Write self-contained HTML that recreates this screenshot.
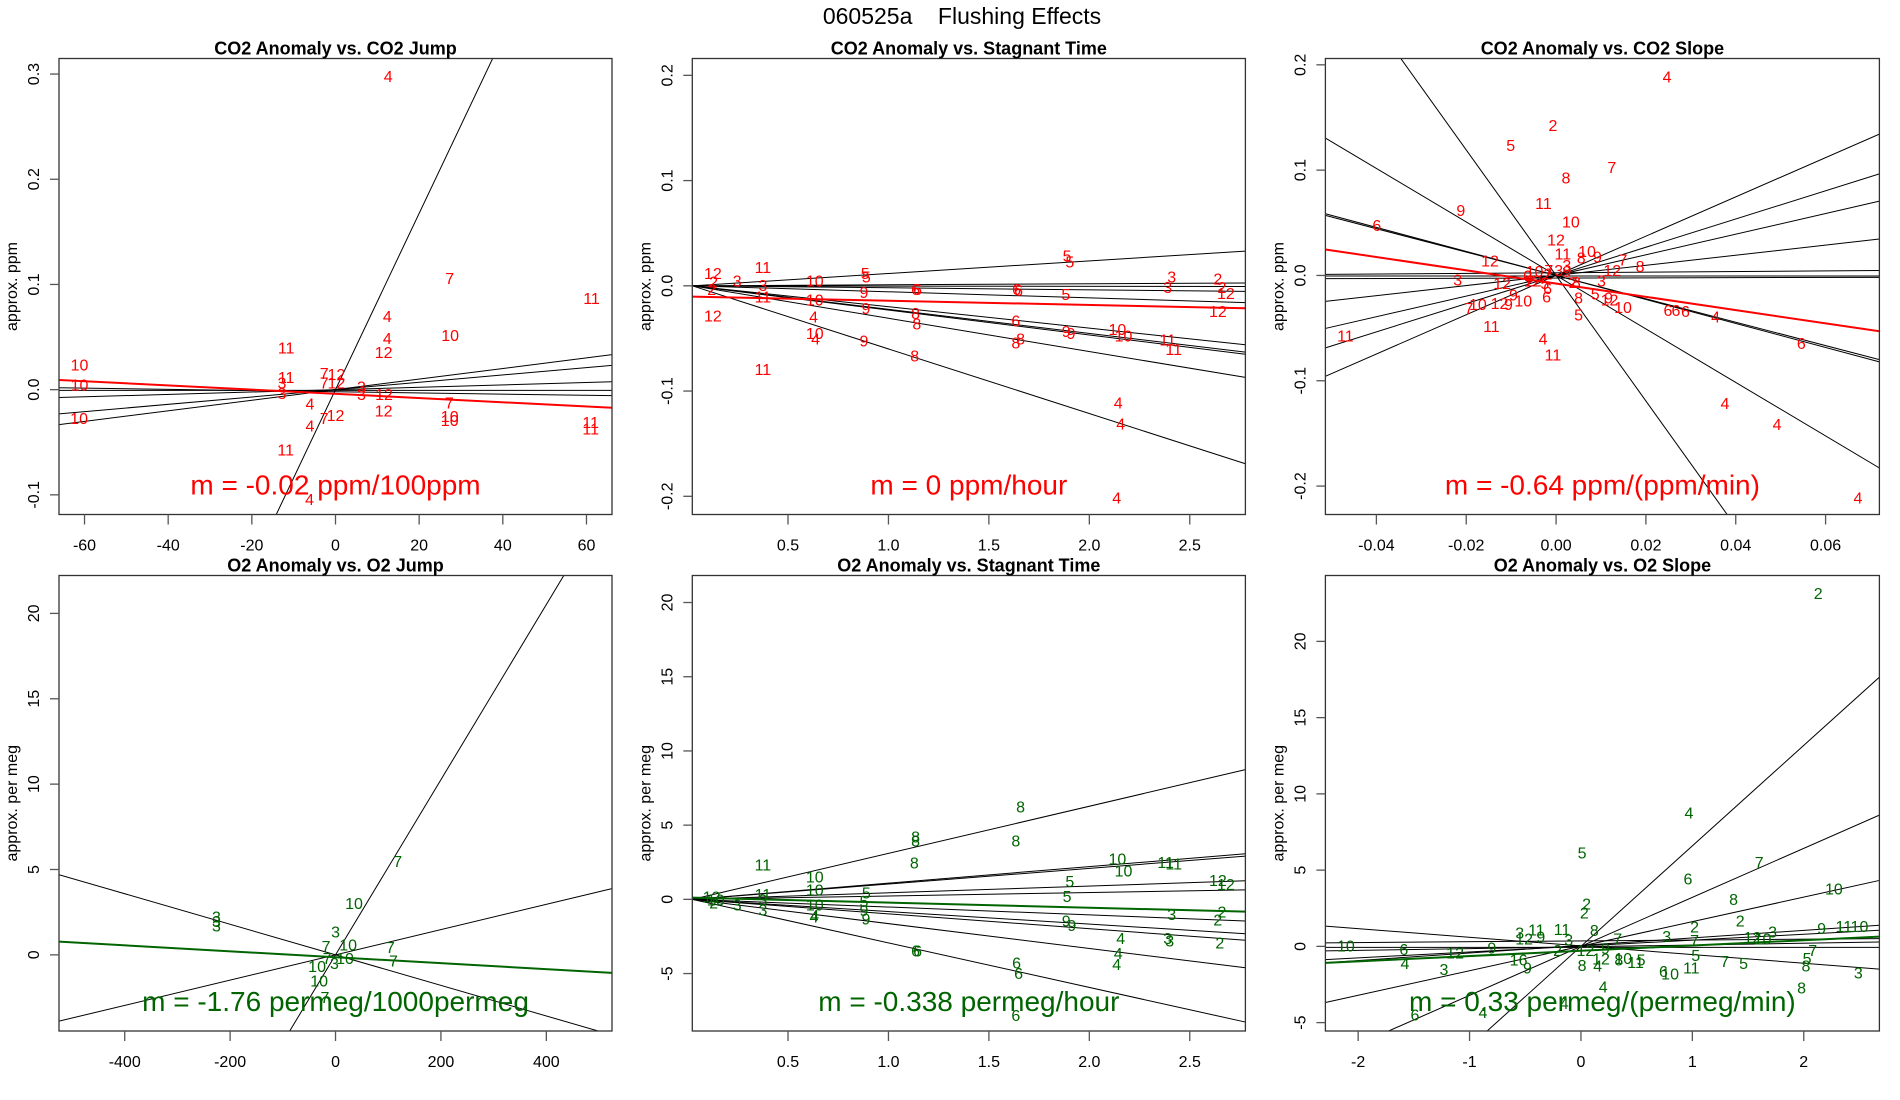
<!DOCTYPE html>
<html><head><meta charset="utf-8"><title>Flushing Effects</title>
<style>
html,body{margin:0;padding:0;background:#fff;width:1900px;height:1100px;overflow:hidden;}
svg{display:block;font-family:"Liberation Sans",Arial,sans-serif;}
</style></head>
<body>
<svg id="fig" width="1900" height="1100" viewBox="0 0 1900 1100" xmlns="http://www.w3.org/2000/svg">
<rect x="0" y="0" width="1900" height="1100" fill="#fff"/>
<text x="962" y="24" text-anchor="middle" font-size="23" fill="#000" style="white-space:pre" xml:space="preserve">060525a    Flushing Effects</text>
</svg>
<script>
// ---------- Panel 1: CO2 Anomaly vs CO2 Jump ----------
const p1Labels = ["4","7","11","4","10","4","11","12","10","11","7","12","10","3","7","12","3","3","3","12","4","7","10","10","10","12","12","7","4","11","11","11","4"];
const p1X = [12.6,27.3,61.2,12.4,27.4,12.4,-11.8,11.5,-61.2,-11.8,-2.7,0.2,-61.2,-12.8,-2.7,0.2,-12.8,6.2,6.2,11.6,-6.1,27.2,27.3,27.3,-61.3,11.5,0,-2.7,-6.1,61,61,-11.9,-6.2];
const p1Y = [0.298,0.106,0.087,0.070,0.052,0.049,0.040,0.036,0.024,0.012,0.016,0.015,0.005,0.007,0.007,0.007,-0.003,0.003,-0.004,-0.004,-0.013,-0.012,-0.025,-0.029,-0.027,-0.020,-0.024,-0.027,-0.034,-0.031,-0.037,-0.057,-0.104];
const p1Slopes = [0.00838,0.000503,0.000349,0.000113,-0.0000566,0];
const p1Intercepts = [0,0,0,0,-0.002,-0.0007];
const p1Fit = [-0.0002,-0.004];
const p1XTicks = [-60,-40,-20,0,20,40,60];
const p1XTickLabels = ["-60","-40","-20","0","20","40","60"];
const p1YTicks = [-0.1,0,0.1,0.2,0.3];
const p1YTickLabels = ["-0.1","0.0","0.1","0.2","0.3"];

// ---------- Panel 2: CO2 Anomaly vs Stagnant Time ----------
const p2Labels = ["12","2","2","12","3","11","3","11","11","10","10","4","10","4","5","5","9","9","9","6","6","8","8","8","6","6","6","8","8","5","5","5","9","9","10","10","4","4","4","11","11","3","3","2","2","12","12"];
const p2X = [0.126,0.13,0.12,0.126,0.247,0.375,0.375,0.375,0.375,0.633,0.633,0.627,0.633,0.637,0.884,0.89,0.878,0.888,0.878,1.135,1.145,1.135,1.141,1.131,1.638,1.648,1.634,1.658,1.634,1.889,1.903,1.883,1.885,1.909,2.14,2.17,2.144,2.156,2.136,2.39,2.42,2.41,2.39,2.64,2.66,2.68,2.64];
const p2Y = [0.012,0.004,-0.003,-0.028,0.005,0.018,0.001,-0.010,-0.079,0.005,-0.013,-0.029,-0.045,-0.050,0.012,0.009,-0.006,-0.021,-0.052,-0.003,-0.003,-0.026,-0.036,-0.066,-0.003,-0.004,-0.033,-0.050,-0.054,0.029,0.023,-0.008,-0.043,-0.045,-0.041,-0.047,-0.111,-0.131,-0.201,-0.051,-0.060,0.009,-0.001,0.007,-0.001,-0.007,-0.024];
const p2Slopes = [0.01198,0.00098,-0.00025,-0.00192,-0.00581,-0.02034,-0.02288,-0.02361,-0.0316,-0.0614];
const p2Intercepts = [-0.00028,-0.00002,0.00001,0.00005,0.00014,0.00048,0.00054,0.00055,0.00074,0.00144];
const p2Fit = [-0.004,-0.0102];
const p2XTicks = [0.5,1.0,1.5,2.0,2.5];
const p2XTickLabels = ["0.5","1.0","1.5","2.0","2.5"];
const p2YTicks = [-0.2,-0.1,0,0.1,0.2];
const p2YTickLabels = ["-0.2","-0.1","0.0","0.1","0.2"];

// ---------- Panel 3: CO2 Anomaly vs CO2 Slope ----------
const p3Labels = ["4","2","5","7","8","11","9","10","6","12","12","11","10","8","9","7","8","12","3","3","3","12","9","7","10","12","9","10","11","11","6","5","8","5","9","12","10","6","6","6","4","6","4","11","4","4","4","0","10","7","2","3","9","2","8","5","6","12","2"];
const p3X = [0.0247,-0.0007,-0.0101,0.0124,0.0022,-0.0028,-0.0212,0.0033,-0.0399,0,-0.0147,0.0015,0.0069,0.0056,0.0092,0.0149,0.0187,0.0125,0.0024,-0.0219,0.0101,-0.012,-0.0095,-0.0194,-0.0174,-0.0126,-0.0106,-0.0073,-0.0144,-0.0469,-0.0021,0.0050,0.0050,0.0087,0.0117,0.0119,0.0149,0.0249,0.0267,0.0288,0.0355,0.0546,-0.0029,-0.0007,0.0376,0.0492,0.0672,-0.0063,-0.0048,-0.0016,-0.0018,0.0006,0.0024,0.0038,0.0045,-0.0025,-0.0019,-0.0052,-0.0057];
const p3Y = [0.189,0.143,0.124,0.103,0.093,0.069,0.062,0.051,0.048,0.034,0.014,0.021,0.023,0.017,0.018,0.015,0.009,0.005,0.010,-0.004,-0.005,-0.007,-0.018,-0.031,-0.027,-0.026,-0.027,-0.024,-0.048,-0.057,-0.020,-0.037,-0.021,-0.017,-0.021,-0.023,-0.030,-0.033,-0.033,-0.034,-0.039,-0.064,-0.060,-0.075,-0.121,-0.141,-0.211,0,0.004,0.005,0.002,0.005,0.004,-0.006,-0.006,-0.007,-0.012,-0.005,-0.005];
const p3Slopes = [-5.96,-2.54,-1.11,-1.14,1.865,1.34,0.98,0.48,0.03,0.01,0];
const p3Intercepts = [0,0,0,0,0,0,0,0,0.0025,-0.0025,-0.0005];
const p3Fit = [-0.63,-0.0077];
const p3XTicks = [-0.04,-0.02,0,0.02,0.04,0.06];
const p3XTickLabels = ["-0.04","-0.02","0.00","0.02","0.04","0.06"];
const p3YTicks = [-0.2,-0.1,0,0.1,0.2];
const p3YTickLabels = ["-0.2","-0.1","0.0","0.1","0.2"];

// ---------- Panel 4: O2 Anomaly vs O2 Jump ----------
const p4Labels = ["7","10","3","3","3","3","7","10","7","7","7","3","10","10","10","7"];
const p4X = [118,35,-226,-226,-226,0,-18,24,104,110,-16,-2,18,-35,-31,-20];
const p4Y = [5.49,3.04,2.24,1.97,1.72,1.36,0.52,0.61,0.46,-0.34,-0.17,-0.48,-0.17,-0.65,-1.49,-2.47];
const p4Slopes = [0.0513,-0.00895,0.0074];
const p4Intercepts = [0,0,0];
const p4Fit = [-0.00174,-0.14];
const p4XTicks = [-400,-200,0,200,400];
const p4XTickLabels = ["-400","-200","0","200","400"];
const p4YTicks = [0,5,10,15,20];
const p4YTickLabels = ["0","5","10","15","20"];

// ---------- Panel 5: O2 Anomaly vs Stagnant Time ----------
const p5Labels = ["11","10","10","10","4","4","8","8","8","6","6","6","6","6","8","8","5","5","9","9","5","5","9","9","10","10","11","11","12","12","3","3","3","4","4","4","2","2","2","12","2","10","3","11","3","3"];
const p5X = [0.375,0.633,0.633,0.633,0.633,0.629,1.135,1.135,1.129,1.135,1.145,1.638,1.648,1.634,1.658,1.634,0.89,0.878,0.878,0.888,1.903,1.889,1.885,1.913,2.14,2.17,2.38,2.42,2.64,2.68,2.41,2.39,2.40,2.156,2.144,2.136,2.66,2.64,2.65,0.12,0.13,0.14,0.247,0.375,0.375,0.375];
const p5Y = [2.36,1.54,0.66,-0.35,-1.06,-1.15,4.25,3.95,2.48,-3.43,-3.43,-4.25,-4.96,-7.80,6.26,3.95,0.47,-0.12,-0.71,-1.30,1.25,0.24,-1.42,-1.72,2.76,1.96,2.53,2.41,1.30,1.02,-0.99,-2.60,-2.76,-2.60,-3.62,-4.37,-0.83,-1.37,-2.91,0.2,-0.2,0.0,-0.35,0.35,0.0,-0.7];
const p5Slopes = [3.174,1.115,1.057,0.454,0.232,-0.530,-0.843,-1.002,-1.674,-3.003];
const p5Intercepts = [-0.075,-0.026,-0.025,-0.011,-0.005,0.012,0.020,0.024,0.039,0.071];
const p5Fit = [-0.345,0.128];
const p5XTicks = [0.5,1.0,1.5,2.0,2.5];
const p5XTickLabels = ["0.5","1.0","1.5","2.0","2.5"];
const p5YTicks = [-5,0,5,10,15,20];
const p5YTickLabels = ["-5","0","5","10","15","20"];

// ---------- Panel 6: O2 Anomaly vs O2 Slope ----------
const p6Labels = ["2","4","5","7","6","10","8","2","2","2","2","3","11","11","8","9","12","3","7","9","11","10","3","12","10","10","6","12","9","4","3","16","9","7","5","5","8","7","5","3","11","6","10","8","4","12","8","10","11","5","4","8","4","4","6","2","3","9","7","12"];
const p6X = [2.13,0.97,0.01,1.60,0.96,2.27,1.37,0.05,0.03,1.43,1.02,-0.55,-0.40,-0.17,0.12,-0.36,-0.51,0.77,1.02,2.16,2.36,2.50,1.72,1.54,1.63,-2.11,-1.59,-1.13,-0.80,-1.58,-1.23,-0.56,-0.48,2.08,1.03,2.03,2.02,1.29,1.46,2.49,0.99,0.74,0.80,0.01,0.15,0.18,0.34,0.38,0.49,0.54,0.20,1.98,-0.15,-0.88,-1.49,-0.21,-0.11,0.22,0.33,0.04];
const p6Y = [23.18,8.79,6.16,5.52,4.44,3.79,3.10,2.81,2.23,1.68,1.31,0.92,1.10,1.15,1.08,0.64,0.51,0.69,0.41,1.20,1.33,1.33,0.99,0.62,0.51,0.07,-0.16,-0.41,-0.07,-1.10,-1.50,-0.87,-1.38,-0.23,-0.57,-0.76,-1.26,-0.97,-1.08,-1.72,-1.38,-1.61,-1.77,-1.22,-1.26,-0.80,-0.87,-0.76,-1.03,-0.87,-2.64,-2.69,-3.73,-4.32,-4.48,-0.23,0.46,-0.11,0.51,-0.23];
const p6Slopes = [6.59,3.214,1.61,-0.567,0.495,0.388,0.117,0.056,0];
const p6Intercepts = [0,0,0.01,0.03,0.06,0.02,-0.03,0.36,-0.07];
const p6Fit = [0.346,-0.29];
const p6XTicks = [-2,-1,0,1,2];
const p6XTickLabels = ["-2","-1","0","1","2"];
const p6YTicks = [-5,0,5,10,15,20];
const p6YTickLabels = ["-5","0","5","10","15","20"];

const NS = "http://www.w3.org/2000/svg";
const svg = document.getElementById("fig");

function mk(tag, attrs, parent) {
  const e = document.createElementNS(NS, tag);
  for (const k in attrs) e.setAttribute(k, attrs[k]);
  (parent || svg).appendChild(e);
  return e;
}

function drawPanel(id, box, xDom, yDom, title, ytitle, color, slopeText,
                   labels, xs, ys, slopes, intercepts, fit,
                   xTicks, xTickLabels, yTicks, yTickLabels) {
  const g = mk("g", {});
  
  
  const sx = v => box.l + (v - xDom[0]) / (xDom[1] - xDom[0]) * (box.r - box.l);
  const sy = v => box.b - (v - yDom[0]) / (yDom[1] - yDom[0]) * (box.b - box.t);

  const cp = mk("clipPath", {id: "clip-" + id}, g);
  mk("rect", {x: box.l, y: box.t, width: box.r - box.l, height: box.b - box.t}, cp);
  const plot = mk("g", {"clip-path": "url(#clip-" + id + ")"}, g);

  for (let i = 0; i < slopes.length; i++) {
    const ln = mk("line", {
      x1: sx(xDom[0]), y1: sy(intercepts[i] + slopes[i] * xDom[0]),
      x2: sx(xDom[1]), y2: sy(intercepts[i] + slopes[i] * xDom[1]),
      stroke: "#000", "stroke-width": 1
    }, plot);
    
    
  }
  const fl = mk("line", {
    x1: sx(xDom[0]), y1: sy(fit[1] + fit[0] * xDom[0]),
    x2: sx(xDom[1]), y2: sy(fit[1] + fit[0] * xDom[1]),
    stroke: color, "stroke-width": 2
  }, plot);
  
  

  for (let i = 0; i < labels.length; i++) {
    const t = mk("text", {x: sx(xs[i]), y: sy(ys[i]) + 6, "text-anchor": "middle",
      "font-size": 16, fill: color}, plot);
    t.textContent = labels[i];
    
    
  }

  const st = mk("text", {x: (box.l + box.r) / 2, y: box.b - 20, "text-anchor": "middle",
    "font-size": 28, fill: color}, g);
  st.textContent = slopeText;
  
  

  const fr = mk("rect", {x: box.l, y: box.t, width: box.r - box.l, height: box.b - box.t,
    fill: "none", stroke: "#333", "stroke-width": 1.3}, g);
  
  

  for (let i = 0; i < xTicks.length; i++) {
    const x = sx(xTicks[i]);
    mk("line", {x1: x, y1: box.b, x2: x, y2: box.b + 10, stroke: "#555", "stroke-width": 1.3}, g);
    const t = mk("text", {x: x, y: box.b + 36, "text-anchor": "middle", "font-size": 16, fill: "#000"}, g);
    t.textContent = xTickLabels[i];
    
    
  }
  for (let i = 0; i < yTicks.length; i++) {
    const y = sy(yTicks[i]);
    mk("line", {x1: box.l - 9, y1: y, x2: box.l, y2: y, stroke: "#555", "stroke-width": 1.3}, g);
    const tx = box.l - 20;
    const t = mk("text", {x: tx, y: y, "text-anchor": "middle", "font-size": 16, fill: "#000",
      transform: "rotate(-90 " + tx + " " + y + ")"}, g);
    t.textContent = yTickLabels[i];
    
    
  }
  const yc = (box.t + box.b) / 2, yx = box.l - 42;
  const yt = mk("text", {x: yx, y: yc, "text-anchor": "middle", "font-size": 16, fill: "#000",
    transform: "rotate(-90 " + yx + " " + yc + ")"}, g);
  yt.textContent = ytitle;
  
  
  const pt = mk("text", {x: (box.l + box.r) / 2, y: box.t - 4, "text-anchor": "middle",
    "font-size": 18, "font-weight": "bold", fill: "#000"}, g);
  pt.textContent = title;
  
  
}

const RED = "#ff0000", GREEN = "#006400";
const topB = {t: 58.5, b: 514.5}, botB = {t: 575.5, b: 1031};
const col = [{l: 59, r: 612}, {l: 692.3, r: 1245.4}, {l: 1325.4, r: 1879.4}];

drawPanel("co2-jump", {l: col[0].l, r: col[0].r, t: topB.t, b: topB.b}, [-66.1, 66.1], [-0.1187, 0.3148],
  "CO2 Anomaly vs. CO2 Jump", "approx. ppm", RED, "m = -0.02 ppm/100ppm",
  p1Labels, p1X, p1Y, p1Slopes, p1Intercepts, p1Fit, p1XTicks, p1XTickLabels, p1YTicks, p1YTickLabels);
drawPanel("co2-stagnant", {l: col[1].l, r: col[1].r, t: topB.t, b: topB.b}, [0.0235, 2.777], [-0.2173, 0.216],
  "CO2 Anomaly vs. Stagnant Time", "approx. ppm", RED, "m = 0 ppm/hour",
  p2Labels, p2X, p2Y, p2Slopes, p2Intercepts, p2Fit, p2XTicks, p2XTickLabels, p2YTicks, p2YTickLabels);
drawPanel("co2-slope", {l: col[2].l, r: col[2].r, t: topB.t, b: topB.b}, [-0.05135, 0.07198], [-0.227, 0.206],
  "CO2 Anomaly vs. CO2 Slope", "approx. ppm", RED, "m = -0.64 ppm/(ppm/min)",
  p3Labels, p3X, p3Y, p3Slopes, p3Intercepts, p3Fit, p3XTicks, p3XTickLabels, p3YTicks, p3YTickLabels);
drawPanel("o2-jump", {l: col[0].l, r: col[0].r, t: botB.t, b: botB.b}, [-524.7, 524.6], [-4.46, 22.22],
  "O2 Anomaly vs. O2 Jump", "approx. per meg", GREEN, "m = -1.76 permeg/1000permeg",
  p4Labels, p4X, p4Y, p4Slopes, p4Intercepts, p4Fit, p4XTicks, p4XTickLabels, p4YTicks, p4YTickLabels);
drawPanel("o2-stagnant", {l: col[1].l, r: col[1].r, t: botB.t, b: botB.b}, [0.0235, 2.777], [-8.87, 21.82],
  "O2 Anomaly vs. Stagnant Time", "approx. per meg", GREEN, "m = -0.338 permeg/hour",
  p5Labels, p5X, p5Y, p5Slopes, p5Intercepts, p5Fit, p5XTicks, p5XTickLabels, p5YTicks, p5YTickLabels);
drawPanel("o2-slope", {l: col[2].l, r: col[2].r, t: botB.t, b: botB.b}, [-2.294, 2.679], [-5.55, 24.32],
  "O2 Anomaly vs. O2 Slope", "approx. per meg", GREEN, "m = 0.33 permeg/(permeg/min)",
  p6Labels, p6X, p6Y, p6Slopes, p6Intercepts, p6Fit, p6XTicks, p6XTickLabels, p6YTicks, p6YTickLabels);
</script>
</body></html>
